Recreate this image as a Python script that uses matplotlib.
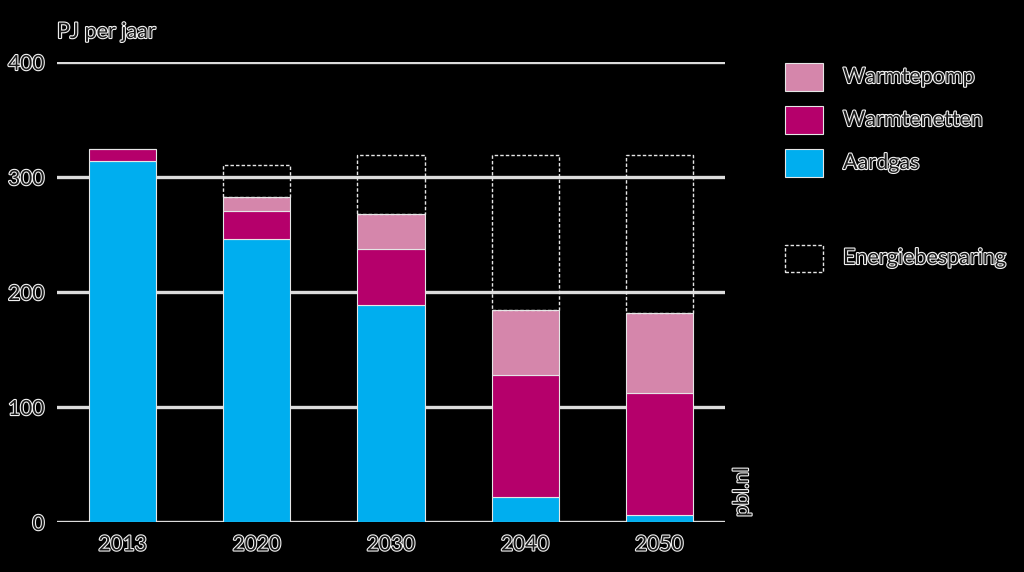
import matplotlib
matplotlib.use("Agg")
import matplotlib.pyplot as plt
import matplotlib.patheffects as pe
from matplotlib.patches import Rectangle
import numpy as np

# data (PJ per jaar)
jaren = ["2013", "2020", "2030", "2040", "2050"]
aardgas = [314, 246, 189, 22, 6]
warmtenetten = [10, 24, 48, 106, 106]
warmtepomp = [0, 13, 31, 56, 70]
besparing = [0, 27, 51, 135, 137]

kleur_aardgas = "#00aeef"
kleur_netten = "#b5006b"
kleur_pomp = "#d586ab"
tekst_kleur = "#1a1a1a"
halo = [pe.withStroke(linewidth=1.6, foreground="#f2f2f2")]

plt.rcParams["font.family"] = ["Lato", "DejaVu Sans"]

fig = plt.figure(figsize=(10.24, 5.72), dpi=100, facecolor="black")
ax = fig.add_axes([57 / 1024, 1 - 522 / 572, (725 - 57) / 1024, 460 / 572])
ax.set_facecolor("black")

x = np.arange(len(jaren))
breedte = 0.5
rand = dict(edgecolor="#e6e6e6", linewidth=0.8, zorder=3)

onder = np.zeros(len(jaren))
for waarden, kleur in [(aardgas, kleur_aardgas), (warmtenetten, kleur_netten),
                       (warmtepomp, kleur_pomp)]:
    w = np.array(waarden, dtype=float)
    ax.bar(x, w, breedte, bottom=onder, color=kleur, **rand)
    onder = onder + w

# energiebesparing: dashed box above the stack
for i, b in enumerate(besparing):
    if b > 0:
        ax.bar(x[i], b, breedte, bottom=onder[i], fill=False,
               edgecolor="#e6e6e6", linestyle=(0, (2.5, 1.5)),
               linewidth=1.0, zorder=3)

ax.set_xlim(-0.49, 4.49)
ax.set_ylim(0, 400)
ax.set_yticks([0, 100, 200, 300, 400])
ax.yaxis.grid(True, color="#dcdcdc", linewidth=2.4, zorder=0)
ax.set_axisbelow(True)
for s in ax.spines.values():
    s.set_visible(False)
ax.tick_params(length=0)
ax.set_xticks(x)
ax.set_xticklabels(jaren)
for lab in ax.get_xticklabels() + ax.get_yticklabels():
    lab.set_color(tekst_kleur)
    lab.set_fontsize(15)
    lab.set_path_effects(halo)
ax.tick_params(axis="x", pad=9)
ax.tick_params(axis="y", pad=9)

fig.text(57 / 1024, 1 - 32 / 572, "PJ per jaar", fontsize=15.5, color=tekst_kleur,
         va="center", ha="left", path_effects=halo)
fig.text(742 / 1024, 1 - 492 / 572, "pbl.nl", fontsize=15, color=tekst_kleur,
         rotation=90, va="center", ha="center", path_effects=halo)

# legend, drawn by hand
items = [("Warmtepomp", kleur_pomp, 77), ("Warmtenetten", kleur_netten, 120),
         ("Aardgas", kleur_aardgas, 163)]
for naam, kleur, yc in items:
    fig.add_artist(Rectangle((785 / 1024, 1 - (yc + 14) / 572), 38 / 1024, 28 / 572,
                             transform=fig.transFigure, facecolor=kleur,
                             edgecolor="#e6e6e6", linewidth=0.8))
    fig.text(843 / 1024, 1 - yc / 572, naam, fontsize=15.5, color=tekst_kleur,
             va="center", ha="left", path_effects=halo)
fig.add_artist(Rectangle((785 / 1024, 1 - 272 / 572), 38 / 1024, 27 / 572,
                         transform=fig.transFigure, fill=False,
                         edgecolor="#e6e6e6", linestyle=(0, (2.5, 1.5)),
                         linewidth=1.0))
fig.text(843 / 1024, 1 - 258 / 572, "Energiebesparing", fontsize=15.5,
         color=tekst_kleur, va="center", ha="left", path_effects=halo)

fig.savefig("out.png", dpi=100, facecolor="black")
